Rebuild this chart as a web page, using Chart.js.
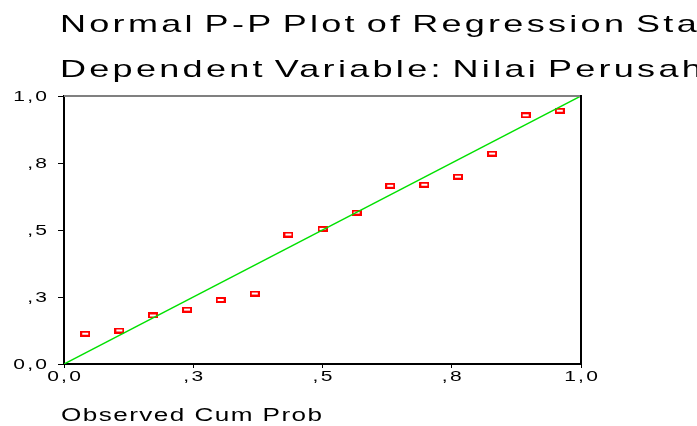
<!DOCTYPE html>
<html>
<head>
<meta charset="utf-8">
<script src="https://cdn.jsdelivr.net/npm/chart.js@4"></script>
<style>
  html, body { margin: 0; padding: 0; background: #fff; overflow: hidden; }
  #wrap { position: relative; width: 697px; height: 426px; overflow: hidden; }
  #chart { position: absolute; left: 0; top: 0; }
  .lbl {
    position: absolute; white-space: nowrap; color: #000;
    font-family: "Liberation Sans", Arial, sans-serif;
    transform-origin: 0 0;
  }
  .ttl { font-size: 24px; line-height: 24px; letter-spacing: 2.2px; word-spacing: -3px; transform: scaleX(1.5); }
  .xt { font-size: 18px; line-height: 18px; letter-spacing: 1px; word-spacing: 0px; transform: scaleX(1.45); }
</style>
</head>
<body>
<div id="wrap">
  <canvas id="chart" width="697" height="426"></canvas>
  <div class="lbl ttl" id="t1" style="left:60px; top:12px;"></div>
  <div class="lbl ttl" id="t2" style="left:60px; top:57px;"></div>
  <div class="lbl xt" id="xt" style="left:61px; top:406px;"></div>
</div>
<script>
let titleLines = ["Normal P-P Plot of Regression Standardized Residual", "Dependent Variable: Nilai Perusahaan"];
let xTitle = "Observed Cum Prob";

// observed cum prob (x) and expected cum prob (y)
let observed = [0.041, 0.107, 0.172, 0.238, 0.303, 0.369, 0.434, 0.5, 0.566, 0.631, 0.697, 0.762, 0.828, 0.893, 0.959];
let expected = [0.113, 0.125, 0.181, 0.203, 0.239, 0.263, 0.483, 0.504, 0.565, 0.665, 0.669, 0.699, 0.785, 0.928, 0.945];

// reference line
let refX = [0, 1];
let refY = [0, 1];

let tickValues = [0, 0.25, 0.5, 0.75, 1];
let tickLabels = ["0,0", ",3", ",5", ",8", "1,0"];

document.getElementById("t1").textContent = titleLines[0];
document.getElementById("t2").textContent = titleLines[1];
document.getElementById("xt").textContent = xTitle;

// open red box marker
let marker = document.createElement("canvas");
marker.width = 10;
marker.height = 6;
let mctx = marker.getContext("2d");
mctx.strokeStyle = "#ff0000";
mctx.lineWidth = 2;
mctx.strokeRect(1, 1, 8, 4);

function tickText(value) {
  let i = tickValues.indexOf(Number(value.toFixed(2)));
  return i >= 0 ? tickLabels[i] : "";
}

// spss style wide tick labels, placed with the chart's own scales
let frame = {
  id: "frame",
  afterDraw(chart) {
    let ctx = chart.ctx;
    let a = chart.chartArea;
    ctx.save();
    ctx.strokeStyle = "#808080";
    ctx.lineWidth = 2;
    ctx.beginPath();
    ctx.moveTo(a.left, a.top);
    ctx.lineTo(a.right, a.top);
    ctx.stroke();
    ctx.strokeStyle = "#000";
    ctx.beginPath();
    ctx.moveTo(a.right, a.top - 1);
    ctx.lineTo(a.right, a.bottom);
    ctx.stroke();

    ctx.fillStyle = "#000";
    ctx.font = "14px 'Liberation Sans', Arial";
    ctx.letterSpacing = "1.5px";
    ctx.textBaseline = "alphabetic";
    let sx = chart.scales.x;
    let sy = chart.scales.y;
    sx.ticks.forEach((t) => {
      let txt = tickText(t.value);
      let w = (ctx.measureText(txt).width - 1.5) * 1.5;
      ctx.save();
      ctx.translate(sx.getPixelForValue(t.value) - w / 2, a.bottom + 17);
      ctx.scale(1.5, 1);
      ctx.textAlign = "left";
      ctx.fillText(txt, 0, 0);
      ctx.restore();
    });
    sy.ticks.forEach((t) => {
      let txt = tickText(t.value);
      let w = (ctx.measureText(txt).width - 1.5) * 1.5;
      ctx.save();
      ctx.translate(a.left - 17 - w, sy.getPixelForValue(t.value) + 5);
      ctx.scale(1.5, 1);
      ctx.textAlign = "left";
      ctx.fillText(txt, 0, 0);
      ctx.restore();
    });
    ctx.restore();
  },
};

let ppChart = new Chart(document.getElementById("chart").getContext("2d"), {
  type: "scatter",
  data: {
    datasets: [
      {
        type: "line",
        data: refX.map((x, i) => ({ x: x, y: refY[i] })),
        borderColor: "#00e000",
        borderWidth: 1.5,
        pointRadius: 0,
        fill: false,
      },
      {
        data: observed.map((x, i) => ({ x: x, y: expected[i] })),
        pointStyle: marker,
        pointRadius: 5,
      },
    ],
  },
  plugins: [frame],
  options: {
    responsive: false,
    animation: false,
    events: [],
    layout: { padding: { top: 96, right: 116, left: 0, bottom: 0 } },
    plugins: { legend: { display: false }, title: { display: false }, tooltip: { enabled: false } },
    scales: {
      x: {
        type: "linear",
        min: 0,
        max: 1,
        afterFit(scale) { scale.height = 62; },
        afterBuildTicks(scale) { scale.ticks = tickValues.map((v) => ({ value: v })); },
        border: { color: "#000", width: 2 },
        grid: { drawOnChartArea: false, drawTicks: true, tickLength: 4, color: "#000" },
        ticks: { display: false },
      },
      y: {
        type: "linear",
        min: 0,
        max: 1,
        afterFit(scale) { scale.width = 64; },
        afterBuildTicks(scale) { scale.ticks = tickValues.map((v) => ({ value: v })); },
        border: { color: "#000", width: 2 },
        grid: { drawOnChartArea: false, drawTicks: true, tickLength: 6, color: "#000" },
        ticks: { display: false },
      },
    },
  },
});
</script>
</body>
</html>
